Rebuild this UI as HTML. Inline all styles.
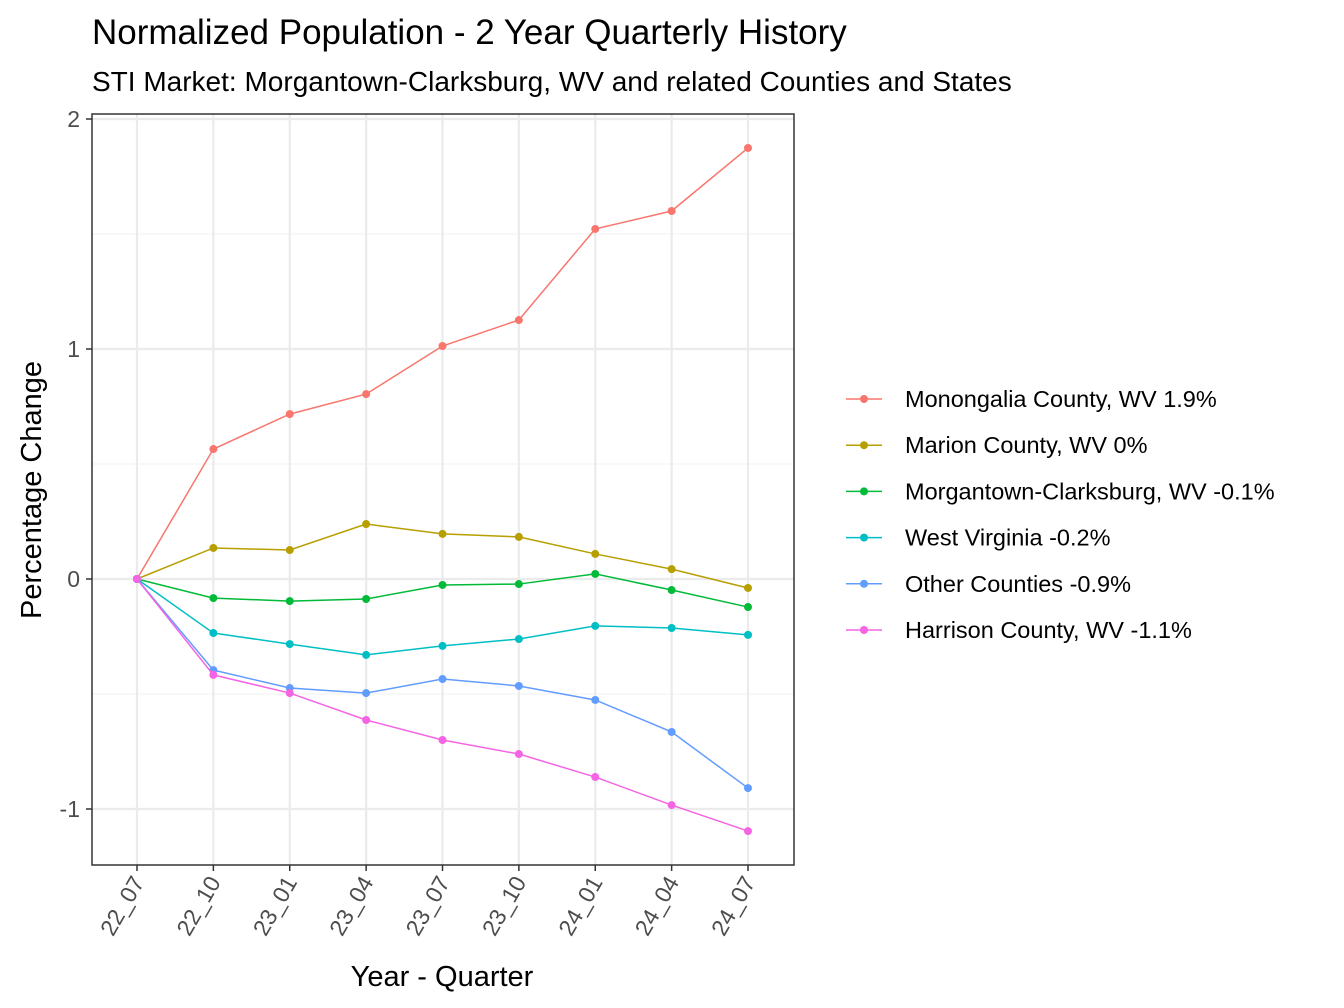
<!DOCTYPE html>
<html><head><meta charset="utf-8"><style>body{margin:0;background:#fff}svg{display:block;font-family:"Liberation Sans",Arial,sans-serif}</style></head>
<body>
<svg id="chart" width="1344" height="1008" xmlns="http://www.w3.org/2000/svg">
<text x="92" y="44" font-size="35" fill="#000">Normalized Population - 2 Year Quarterly History</text>
<text x="92" y="91" font-size="28" fill="#000">STI Market: Morgantown-Clarksburg, WV and related Counties and States</text>
<g id="grid"></g>
<g id="series"></g>
<rect x="92" y="114" width="702" height="751" fill="none" stroke="#333" stroke-width="1.5"/>
<g id="axes"></g>
<text transform="translate(41,490) rotate(-90)" text-anchor="middle" font-size="29">Percentage Change</text>
<text x="442" y="986" text-anchor="middle" font-size="29">Year - Quarter</text>
<g id="legend"></g>
</svg>
<script>
const categories=["22_07","22_10","23_01","23_04","23_07","23_10","24_01","24_04","24_07"];
const seriesNames=["Monongalia County, WV 1.9%","Marion County, WV 0%","Morgantown-Clarksburg, WV -0.1%","West Virginia -0.2%","Other Counties -0.9%","Harrison County, WV -1.1%"];
const monongalia=[0,0.565,0.717,0.804,1.013,1.126,1.522,1.6,1.874];
const marion=[0,0.135,0.126,0.239,0.196,0.183,0.109,0.043,-0.039];
const morgantown=[0,-0.083,-0.096,-0.087,-0.026,-0.022,0.022,-0.048,-0.122];
const westVirginia=[0,-0.235,-0.283,-0.330,-0.291,-0.261,-0.204,-0.213,-0.243];
const otherCounties=[0,-0.396,-0.474,-0.496,-0.435,-0.465,-0.526,-0.665,-0.909];
const harrison=[0,-0.417,-0.496,-0.613,-0.700,-0.761,-0.861,-0.983,-1.096];
const yTicks=[-1,0,1,2];
const yMinor=[-0.5,0.5,1.5];
const colors=["#F8766D","#B79F00","#00BA38","#00BFC4","#619CFF","#F564E3"];
const allSeries=[monongalia,marion,morgantown,westVirginia,otherCounties,harrison];
const NS="http://www.w3.org/2000/svg";
const xS=i=>137+i*(748-137)/(categories.length-1);
const yS=v=>579-v*230;
function mk(tag,attrs,parent){const e=document.createElementNS(NS,tag);for(const k in attrs)e.setAttribute(k,attrs[k]);parent.appendChild(e);return e;}
const grid=document.getElementById('grid'),axes=document.getElementById('axes'),ser=document.getElementById('series'),leg=document.getElementById('legend');
mk('rect',{x:92,y:114,width:702,height:751,fill:'#fff'},grid);
yMinor.forEach(v=>{const l=mk('line',{x1:92,x2:794,y1:yS(v),y2:yS(v),stroke:'#F2F2F2','stroke-width':1},grid);

});
yTicks.forEach(v=>{const l=mk('line',{x1:92,x2:794,y1:yS(v),y2:yS(v),stroke:'#EBEBEB','stroke-width':2.2},grid);


const t=mk('line',{x1:86,x2:92,y1:yS(v),y2:yS(v),stroke:'#333','stroke-width':1.5},axes);


const tx=mk('text',{x:80,y:yS(v)+8,'text-anchor':'end','font-size':23,fill:'#4D4D4D'},axes);tx.textContent=v;

});
categories.forEach((c,i)=>{const x=xS(i);
const l=mk('line',{x1:x,x2:x,y1:114,y2:865,stroke:'#EBEBEB','stroke-width':2.2},grid);


const t=mk('line',{x1:x,x2:x,y1:865,y2:871,stroke:'#333','stroke-width':1.5},axes);


const tx=mk('text',{transform:`translate(${x+8},${882}) rotate(-60)`,'text-anchor':'end','font-size':23,fill:'#4D4D4D'},axes);tx.textContent=c;

});
allSeries.forEach((s,k)=>{const g=mk('g',{},ser);


const p=mk('polyline',{points:s.map((v,i)=>xS(i)+','+yS(v)).join(' '),fill:'none',stroke:colors[k],'stroke-width':1.5},g);


s.forEach((v,i)=>{const c=mk('circle',{cx:xS(i),cy:yS(v),r:4,fill:colors[k]},g);

});
const y=399+k*46.2;
const ll=mk('line',{x1:846,x2:882,y1:y,y2:y,stroke:colors[k],'stroke-width':1.5},leg);


const lc=mk('circle',{cx:864,cy:y,r:4,fill:colors[k]},leg);


const lt=mk('text',{x:905,y:y+8,'font-size':23.5,fill:'#000'},leg);lt.textContent=seriesNames[k];

});
</script>
</body></html>
